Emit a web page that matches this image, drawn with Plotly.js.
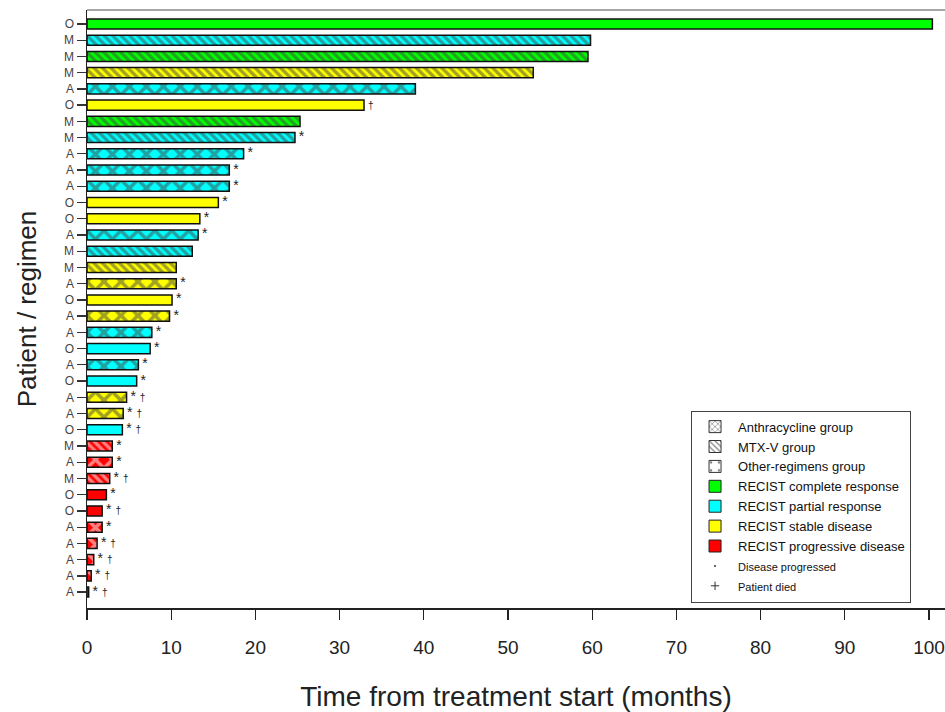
<!DOCTYPE html>
<html><head><meta charset="utf-8">
<script src="https://cdn.plot.ly/plotly-3.0.1.min.js"></script>
<style>html,body{margin:0;padding:0;background:#fff}#chart{width:945px;height:712px}</style>
</head><body><div id="chart"></div>
<script>
// ---- data (top bar first) ----
const regimens = ['O','M','M','M','A','O','M','M','A','A','A','O','O','A','M','M','A','O','A','A','O','A','O','A','A','O','M','A','M','O','O','A','A','A','A','A'];
const responses = ['CR','PR','CR','SD','PR','SD','CR','PR','PR','PR','PR','SD','SD','PR','PR','SD','SD','SD','SD','PR','PR','PR','PR','SD','SD','PR','PD','PD','PD','PD','PD','PD','PD','PD','PD','PR'];
const months = [100.4,59.8,59.5,53.0,39.0,32.9,25.3,24.7,18.6,16.9,16.9,15.6,13.4,13.2,12.5,10.6,10.6,10.1,9.8,7.7,7.5,6.1,5.9,4.7,4.3,4.2,3.0,3.0,2.7,2.3,1.8,1.8,1.2,0.8,0.5,0.2];
const progressed = [0,0,0,0,0,0,0,1,1,1,1,1,1,1,0,0,1,1,1,1,1,1,1,1,1,1,1,1,1,1,1,1,1,1,1,1];
const died =       [0,0,0,0,0,1,0,0,0,0,0,0,0,0,0,0,0,0,0,0,0,0,0,1,1,1,0,0,1,0,1,0,1,1,1,1];
const xTicks = [0,10,20,30,40,50,60,70,80,90,100];
const groupNames = {A:'Anthracycline group', M:'MTX-V group', O:'Other-regimens group'};
const responseNames = {CR:'RECIST complete response', PR:'RECIST partial response', SD:'RECIST stable disease', PD:'RECIST progressive disease'};

// ---- styles ----
const responseColors = {CR:'#00ff00', PR:'#00ffff', SD:'#ffff00', PD:'#ff0000'};
const patShape = {A:'x', M:'\\', O:''};
const patSize = {A:12, M:6, O:8};
const patSolid = {A:0.5, M:0.55, O:0.3};
const FONT = 'Liberation Sans, Arial, sans-serif';

const idx = months.map((_, i) => i);
const dagger = '<span style="font-size:10px">†</span>';
const markText = months.map((_, i) => {
  let s = '';
  if (progressed[i]) s += '*';
  if (died[i]) s += (s ? ' ' + dagger : dagger);
  return s ? ' ' + s : '';
});

const traces = [];
traces.push({
  type: 'bar', orientation: 'h', x: months, y: idx, width: 0.62,
  showlegend: false, hoverinfo: 'x',
  marker: {
    color: responses.map(r => responseColors[r]),
    line: {color: '#111', width: 1.5},
    pattern: {
      shape: regimens.map(g => patShape[g]),
      size: regimens.map(g => patSize[g]),
      solidity: regimens.map(g => patSolid[g]),
      fgcolor: '#000', fillmode: 'overlay'
    }
  }
});
traces.push({
  type: 'scatter', mode: 'text', x: months, y: idx, text: markText,
  textposition: 'middle right', showlegend: false, hoverinfo: 'skip',
  textfont: {family: FONT, size: 14, color: '#222'}
});
// legend entries
['A','M','O'].forEach(g => traces.push({
  type: 'bar', orientation: 'h', x: [null], y: [null], name: groupNames[g],
  marker: {color: '#fff', line: {color: '#333', width: 1},
    pattern: {shape: g === 'O' ? '.' : patShape[g], size: g === 'O' ? 12 : 5, solidity: g === 'O' ? 0.08 : 0.3, fgcolor: '#000', fillmode: 'overlay'}}
}));
['CR','PR','SD','PD'].forEach(r => traces.push({
  type: 'bar', orientation: 'h', x: [null], y: [null], name: responseNames[r],
  marker: {color: responseColors[r], line: {color: '#222', width: 1}}
}));
traces.push({type: 'scatter', mode: 'markers', x: [null], y: [null],
  name: '<span style="font-size:11px">Disease progressed</span>',
  marker: {symbol: 'circle', size: 2, color: '#333'}});
traces.push({type: 'scatter', mode: 'markers', x: [null], y: [null],
  name: '<span style="font-size:11px">Patient died</span>',
  marker: {symbol: 'cross-thin', size: 6, line: {color: '#333', width: 1}}});

const layout = {
  width: 945, height: 712,
  margin: {l: 87, r: 0, t: 10, b: 104},
  paper_bgcolor: '#fff', plot_bgcolor: '#fff',
  font: {family: FONT, color: '#222'},
  bargap: 0,
  xaxis: {
    range: [0, 101.9], tickvals: xTicks, ticktext: xTicks.map(String),
    ticks: 'outside', ticklen: 10, tickwidth: 1.3, tickcolor: '#222',
    showline: true, linecolor: '#222', linewidth: 1.5,
    showgrid: false, zeroline: false,
    tickfont: {size: 19, color: '#222'}, ticklabeloverflow: 'allow', ticklabelstandoff: 12,
    title: {text: 'Time from treatment start (months)', font: {size: 28, color: '#222'}, standoff: 30}
  },
  yaxis: {
    range: [35.98, -0.86], tickvals: idx, ticktext: regimens,
    ticks: 'outside', ticklen: 9, tickwidth: 1.3, tickcolor: '#333',
    showline: true, linecolor: '#222', linewidth: 1.5,
    showgrid: false, zeroline: false,
    tickfont: {size: 12, color: '#444'},
    title: {text: 'Patient / regimen', font: {size: 26, color: '#222'}, standoff: 20}
  },
  legend: {
    x: 0.704, y: 0.33, xanchor: 'left', yanchor: 'top',
    bordercolor: '#444', borderwidth: 1, bgcolor: '#fff',
    font: {size: 13, color: '#111'}, tracegroupgap: 0, itemwidth: 36
  },
  shapes: [{type: 'line', xref: 'paper', yref: 'paper', x0: 0, x1: 1, y0: 1, y1: 1, line: {color: '#888', width: 1.5}}]
};
Plotly.newPlot('chart', traces, layout, {displayModeBar: false, staticPlot: true});
</script></body></html>
